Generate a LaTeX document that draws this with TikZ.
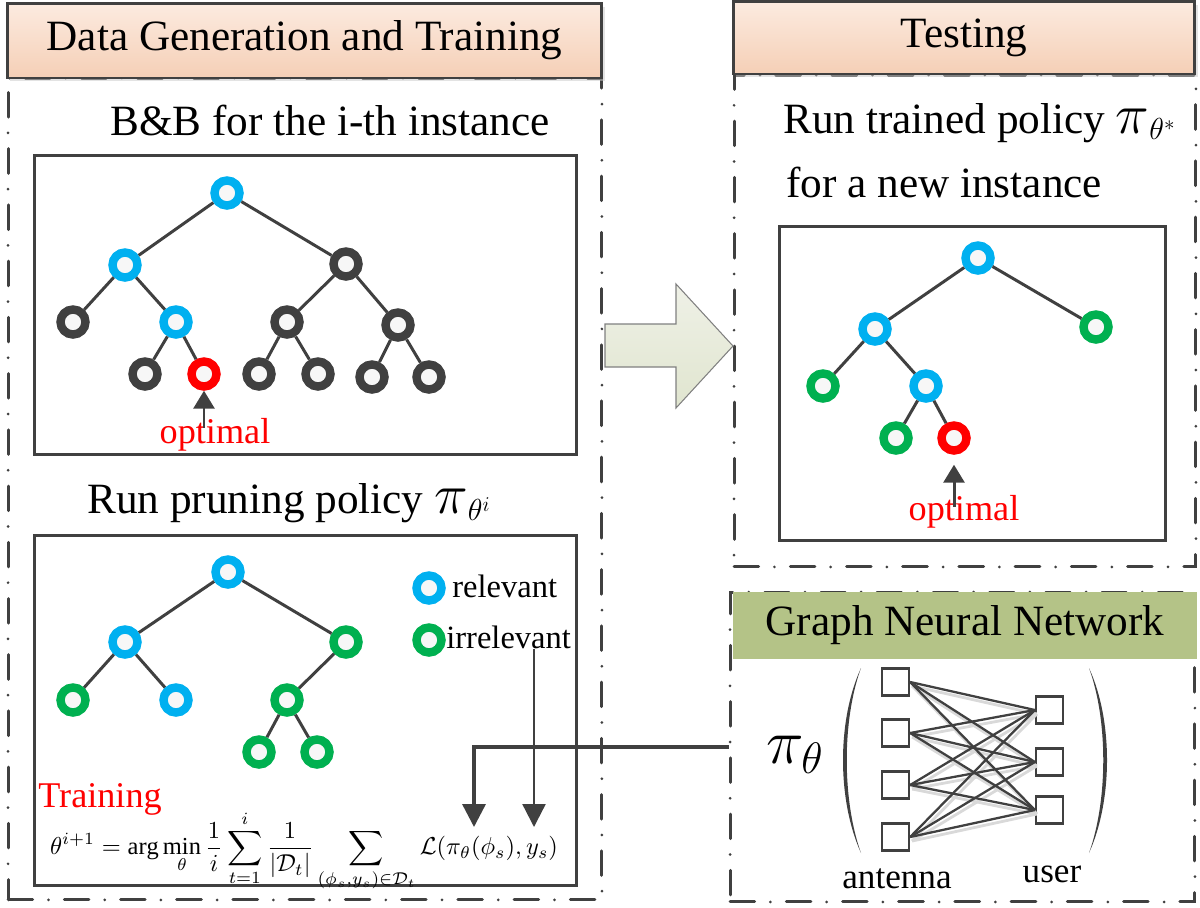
\documentclass[tikz,border=0pt]{standalone}
\usepackage{amsmath}
\usepackage{fontspec}
\setmainfont{Liberation Serif}
\usepackage{graphicx}
\usetikzlibrary{arrows.meta,shadows}

\definecolor{darkline}{HTML}{404040}
\definecolor{relblue}{HTML}{00B0F0}
\definecolor{irrgreen}{HTML}{00B050}
\definecolor{optred}{HTML}{FF0000}
\definecolor{peachtop}{HTML}{FCEBE0}
\definecolor{peachbot}{HTML}{F5CFB6}
\definecolor{gnngreen}{HTML}{B4C387}
\definecolor{arrowtop}{HTML}{EFF1E7}
\definecolor{arrowbot}{HTML}{E0E5CF}

\newcommand{\bigpi}{\mbox{\scalebox{1.3}{$\pi$}}}

\tikzset{
    ringnode/.style={circle,line width=4.8pt,minimum size=0.5cm,inner sep=0pt,fill=gray!6},
    bluenode/.style={ringnode,draw=relblue},
    greennode/.style={ringnode,draw=irrgreen},
    graynode/.style={ringnode,draw=darkline},
    rednode/.style={ringnode,draw=optred},
    treeline/.style={draw=darkline,line width=1.7pt},
    treebox/.style={draw=darkline,line width=1.7pt,inner sep=0pt},
    panel/.style={draw=darkline,line width=1.7pt,dash pattern=on 14pt off 9pt on 0pt off 9pt,line cap=round,inner sep=0pt},
    headbox/.style={draw=darkline,line width=1.7pt,top color=peachtop,bottom color=peachbot,
        drop shadow={shadow xshift=0.06cm,shadow yshift=-0.07cm,fill=black!22},inner sep=0pt,font=\fontsize{24.6}{30}\selectfont},
    titletext/.style={inner sep=0pt,font=\fontsize{24.6}{30}\selectfont},
    optlabel/.style={inner sep=0pt,text=optred,font=\fontsize{20.6}{24}\selectfont},
    legendtext/.style={inner sep=0pt,font=\fontsize{18.5}{22}\selectfont},
    smalltext/.style={inner sep=0pt,font=\fontsize{20}{24}\selectfont},
    opttip/.style={-{Triangle[length=0.36cm,width=0.42cm]},draw=darkline,line width=1.7pt},
    bigtip/.style={-{Triangle[length=0.46cm,width=0.46cm]},draw=darkline},
    sqnode/.style={draw=darkline,line width=1.3pt,minimum size=0.54cm,inner sep=0pt,fill=white},
    gnnline/.style={draw=darkline,line width=1.3pt},
    gnnshade/.style={draw=black!15,line width=1.6pt}
}

\begin{document}
\begin{tikzpicture}[x=0.02cm,y=-0.02cm]
    \useasboundingbox (0,0) rectangle (1200,907);

    % dash-dot panels
    \node at (305,489) [panel,minimum width=11.88cm,minimum height=16.44cm] (trainpanel) {};
    \node at (965,321) [panel,minimum width=9.24cm,minimum height=9.84cm] (testpanel) {};
    \node at (962.5,747) [panel,minimum width=9.3cm,minimum height=6.2cm] (gnnpanel) {};

    % headers
    \node at (304.5,40.5) [headbox,minimum width=11.9cm,minimum height=1.5cm] (trainhead) {Data Generation and Training};
    \node at (964,37.5) [headbox,minimum width=9.24cm,minimum height=1.46cm] (testhead) {Testing};
    \node at (965,625.5) [fill=gnngreen,minimum width=9.28cm,minimum height=1.34cm,inner sep=0pt,font=\fontsize{24.6}{30}\selectfont] (gnnhead) {Graph Neural Network};

    % big arrow
    \draw[draw=black!50,line width=0.6pt,top color=arrowtop,bottom color=arrowbot]
        (605,324) -- (676,324) -- (676,284) -- (733,346) -- (676,408) -- (676,367) -- (605,367) -- cycle;

    % B&B tree
    \node at (110,135) [titletext,anchor=base west] (bbtitle) {B\&B for the i-th instance};
    \node at (305.5,305) [treebox,minimum width=10.86cm,minimum height=6cm] (box1) {};
    \node at (227,193) [bluenode] (a) {};
    \node at (125,265) [bluenode] (b) {};
    \node at (346,264) [graynode] (c) {};
    \node at (73,322) [graynode] (d) {};
    \node at (176,322) [bluenode] (e) {};
    \node at (287,322) [graynode] (f) {};
    \node at (398,325) [graynode] (g) {};
    \node at (145,374) [graynode] (h) {};
    \node at (204,374) [rednode] (i) {};
    \node at (259,374) [graynode] (j) {};
    \node at (318,374) [graynode] (k) {};
    \node at (372,377) [graynode] (l) {};
    \node at (429,377) [graynode] (m) {};
    \draw[treeline] (a) -- (b) (a) -- (c) (b) -- (d) (b) -- (e) (c) -- (f) (c) -- (g) (e) -- (h) (e) -- (i) (f) -- (j) (f) -- (k) (g) -- (l) (g) -- (m);
    \node at (215,443) [optlabel,anchor=base] (opt1) {optimal};
    \draw[opttip,shorten <=-0.2cm] (i |- opt1.north) -- (i);

    % pruning tree
    \node at (87,513) [titletext,anchor=base west] (prunetitle) {Run pruning policy $\bigpi_{\theta^i}$};
    \node at (305.5,710.5) [treebox,minimum width=10.86cm,minimum height=7.02cm] (box2) {};
    \node at (228,572) [bluenode] (p1) {};
    \node at (125,642) [bluenode] (p2) {};
    \node at (346,642) [greennode] (p3) {};
    \node at (73,700) [greennode] (p4) {};
    \node at (176,700) [bluenode] (p5) {};
    \node at (287,700) [greennode] (p6) {};
    \node at (259,752) [greennode] (p7) {};
    \node at (317,752) [greennode] (p8) {};
    \draw[treeline] (p1) -- (p2) (p1) -- (p3) (p2) -- (p4) (p2) -- (p5) (p3) -- (p6) (p6) -- (p7) (p6) -- (p8);
    \node at (429,588) [bluenode] (relkey) {};
    \node at (429,640) [greennode] (irrkey) {};
    \node at (452,597) [legendtext,anchor=base west] (reltext) {relevant};
    \node at (446,648) [legendtext,anchor=base west] (irrtext) {irrelevant};
    \node at (38,807) [optlabel,anchor=base west] (traintext) {Training};
    \node at (304,851) [inner sep=0pt] (formula) {\resizebox{10.16cm}{!}{$\displaystyle \theta^{i+1}=\arg\min_{\theta}\frac{1}{i}\sum_{t=1}^{i}\frac{1}{|\mathcal{D}_t|}\sum_{(\phi_s,y_s)\in\mathcal{D}_t}\mathcal{L}(\pi_\theta(\phi_s),y_s)$}};
    \coordinate (pitip) at (474,827);
    \coordinate (ytip) at (534,827);
    \draw[bigtip,line width=1.9pt] (gnnpanel.west) -| (pitip);
    \draw[bigtip,line width=1.3pt] (irrtext.south -| ytip) -- (ytip);

    % testing tree
    \node at (783,133) [titletext,anchor=base west] (testtitle) {Run trained policy $\bigpi_{\theta^*}$};
    \node at (786,197) [titletext,anchor=base west] (testtitle2) {for a new instance};
    \node at (972.5,383.5) [treebox,minimum width=7.74cm,minimum height=6.3cm] (box3) {};
    \node at (978,258) [bluenode] (t1) {};
    \node at (875,329) [bluenode] (t2) {};
    \node at (1096,327) [greennode] (t3) {};
    \node at (823,386) [greennode] (t4) {};
    \node at (926,386) [bluenode] (t5) {};
    \node at (896,438) [greennode] (t6) {};
    \node at (954,438) [rednode] (t7) {};
    \draw[treeline] (t1) -- (t2) (t1) -- (t3) (t2) -- (t4) (t2) -- (t5) (t5) -- (t6) (t5) -- (t7);
    \node at (964,520) [optlabel,anchor=base] (opt2) {optimal};
    \draw[opttip,shorten <=-0.24cm,shorten >=0.2cm] (t7 |- opt2.north) -- (t7);

    % GNN
    \node at (795,755) [font=\fontsize{24.6}{30}\selectfont] (pi) {\scalebox{1.45}{$\pi_\theta$}};
    \fill[darkline] (861,668) .. controls (837,720) and (837,800) .. (861,853) .. controls (842,800) and (842,720) .. (861,668) -- cycle;
    \fill[darkline] (1089,668) .. controls (1113,720) and (1113,800) .. (1089,853) .. controls (1108,800) and (1108,720) .. (1089,668) -- cycle;
    \node at (895.5,682) [sqnode] (a1) {};
    \node at (895.5,733) [sqnode] (a2) {};
    \node at (895.5,785) [sqnode] (a3) {};
    \node at (895.5,837) [sqnode] (a4) {};
    \node at (1049.5,710) [sqnode] (u1) {};
    \node at (1049.5,762) [sqnode] (u2) {};
    \node at (1049.5,810) [sqnode] (u3) {};
    \foreach \i in {1,...,4}
        \foreach \j in {1,2,3}
            \draw[gnnshade] ([shift={(2,4)}]a\i.east) -- ([shift={(2,4)}]u\j.west);
    \foreach \i in {1,...,4}
        \foreach \j in {1,2,3}
            \draw[gnnline] (a\i.east) -- (u\j.west);
    \node at (897,888) [smalltext,anchor=base] (anttext) {antenna};
    \node at (1052,882) [smalltext,anchor=base] (usertext) {user};
\end{tikzpicture}
\end{document}
